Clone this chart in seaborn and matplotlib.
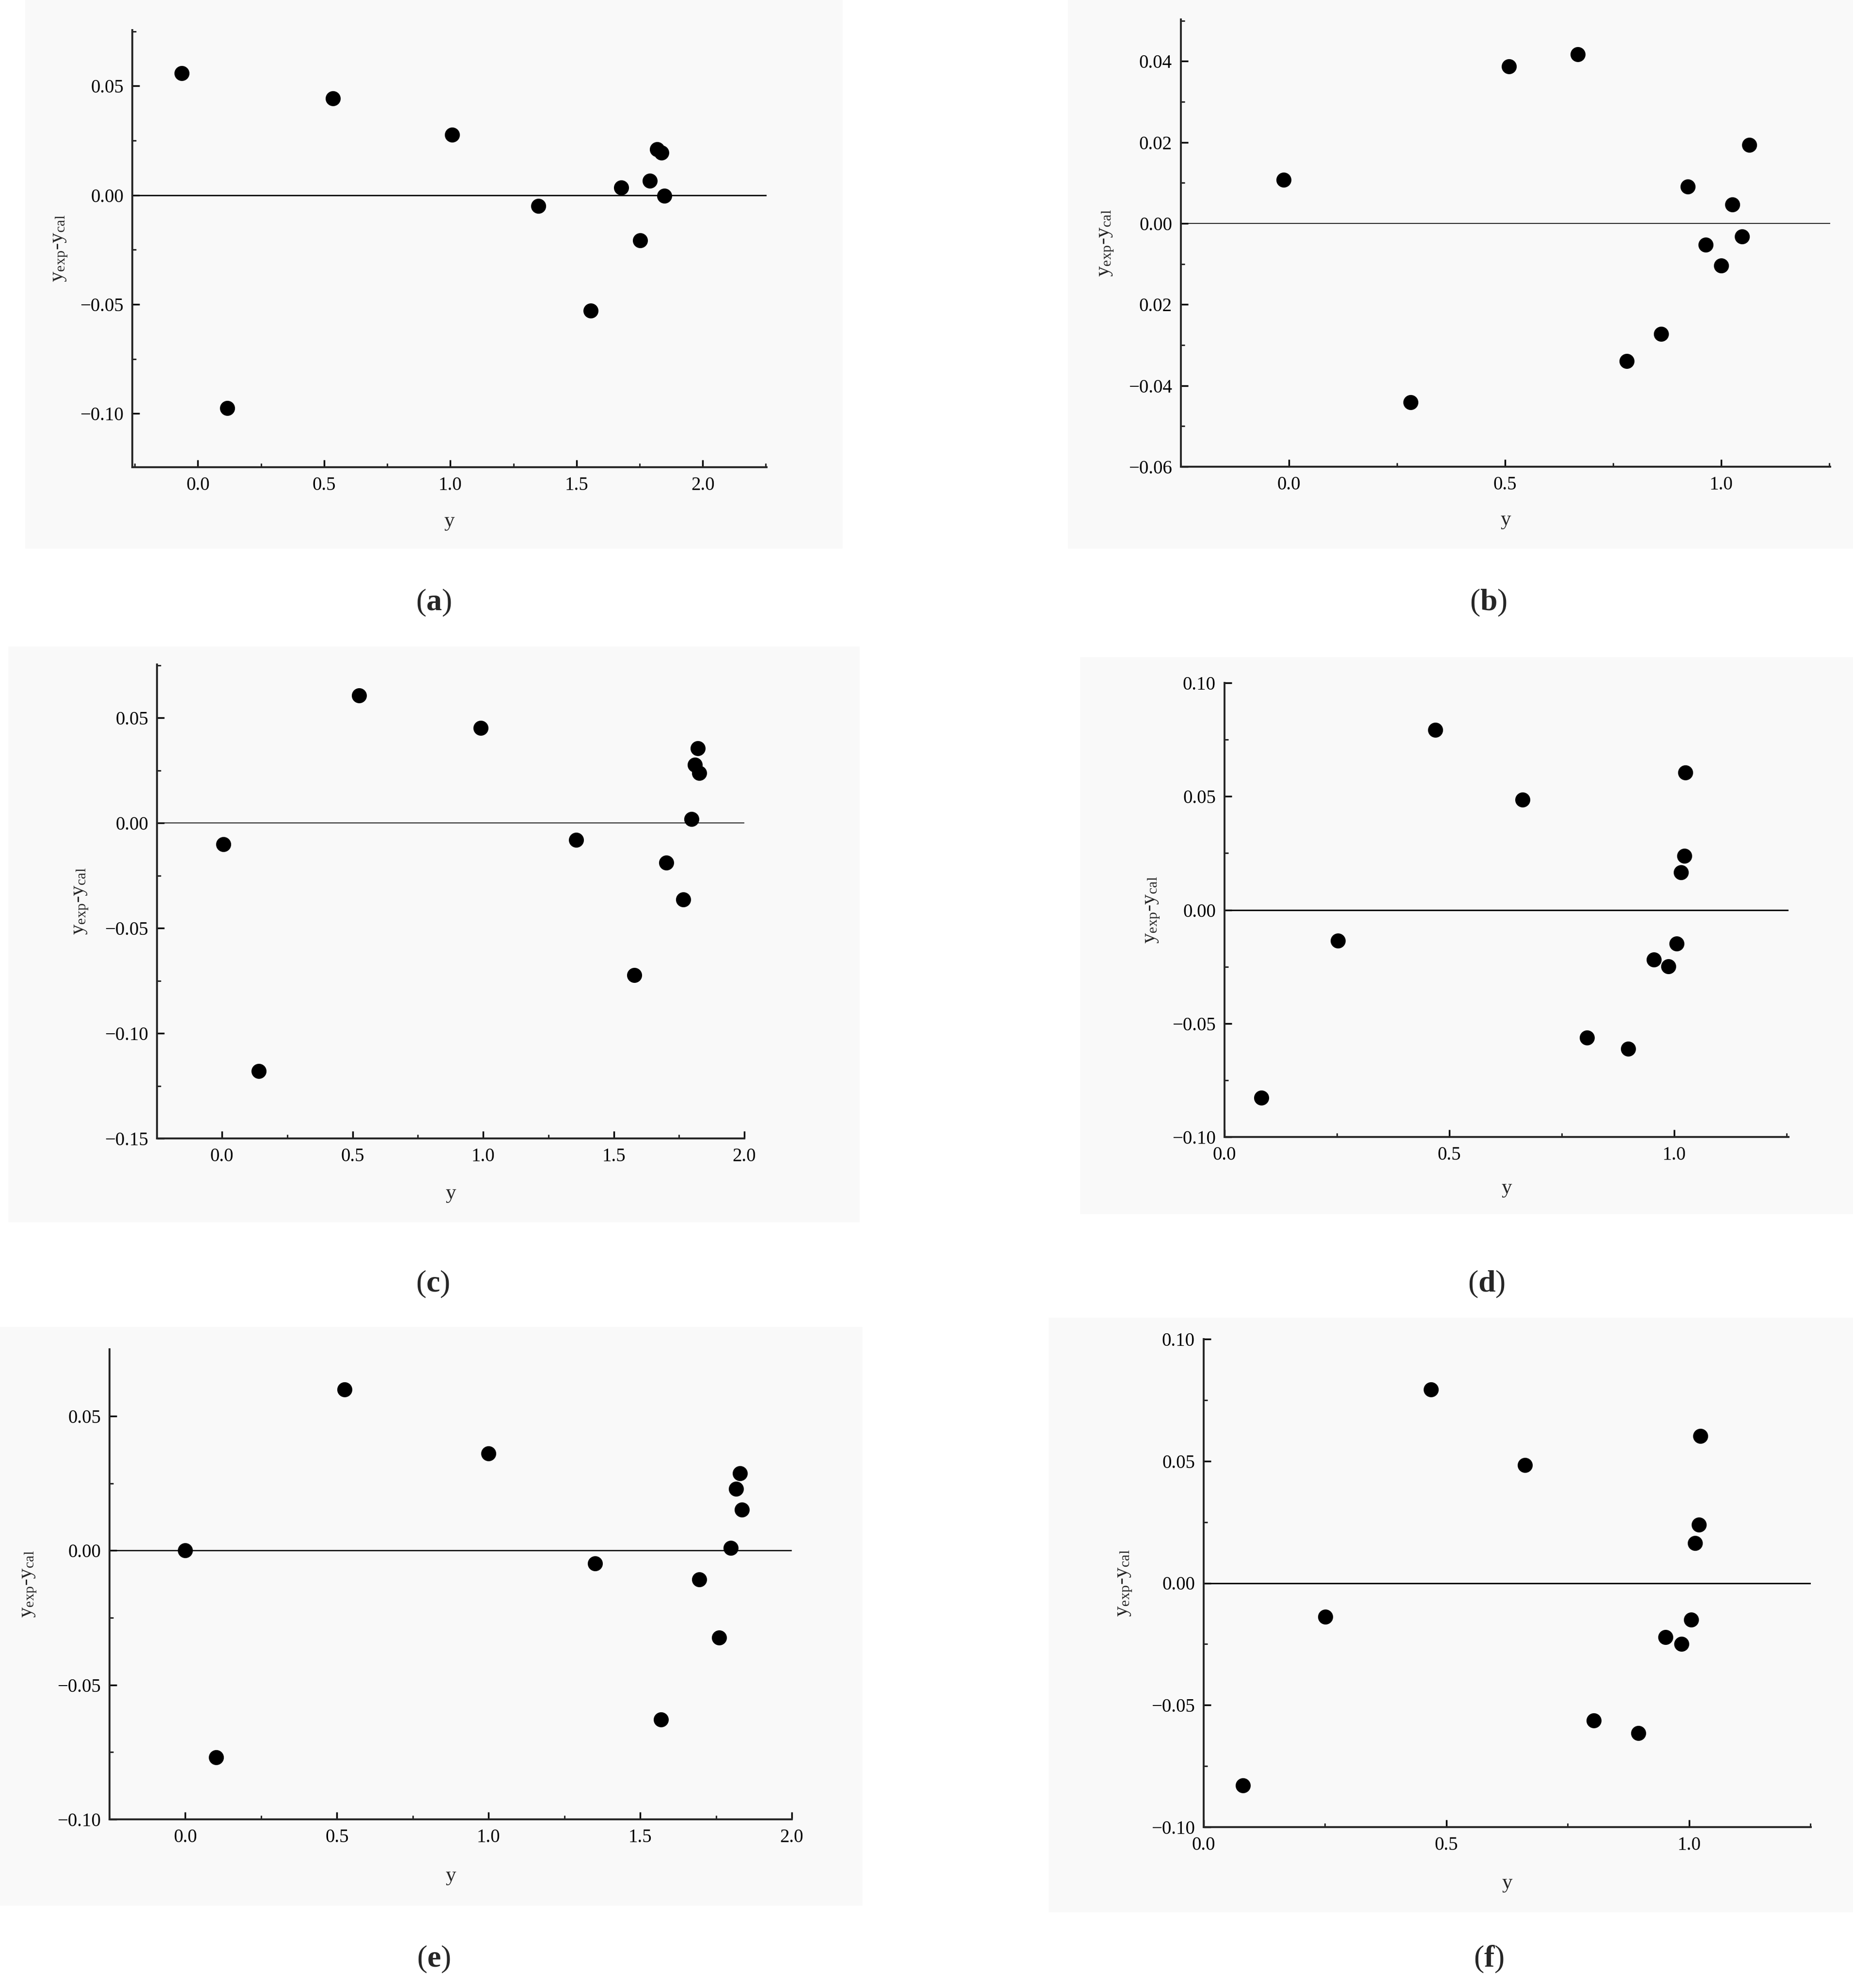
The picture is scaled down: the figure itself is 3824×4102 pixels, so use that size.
import matplotlib
matplotlib.use("Agg")
import matplotlib.pyplot as plt
import seaborn as sns
import pandas as pd
from matplotlib.patches import Rectangle
from matplotlib.ticker import FixedLocator, FixedFormatter, MultipleLocator

# ---------------- data ----------------
A_X = [-0.064, 0.117, 0.535, 1.007, 1.348, 1.557, 1.678, 1.751, 1.791, 1.819, 1.837, 1.848]
A_Y = [0.0559, -0.0976, 0.0443, 0.0276, -0.0050, -0.0528, 0.0035, -0.0208, 0.0066, 0.0211, 0.0195, -0.0004]

B_X = [-0.012, 0.281, 0.509, 0.668, 0.781, 0.861, 0.922, 0.964, 1.000, 1.026, 1.048, 1.065]
B_Y = [0.0107, -0.0441, 0.0387, 0.0417, -0.0339, -0.0273, 0.0091, -0.0053, -0.0104, 0.0047, -0.0032, 0.0193]

C_X = [0.006, 0.141, 0.525, 0.991, 1.356, 1.578, 1.701, 1.767, 1.797, 1.810, 1.821, 1.827]
C_Y = [-0.0101, -0.1179, 0.0607, 0.0452, -0.0081, -0.0724, -0.0188, -0.0363, 0.0018, 0.0276, 0.0355, 0.0238]

D_X = [0.082, 0.252, 0.469, 0.663, 0.806, 0.897, 0.954, 0.987, 1.005, 1.015, 1.022, 1.025]
D_Y = [-0.0827, -0.0136, 0.0794, 0.0485, -0.0563, -0.0612, -0.0219, -0.0248, -0.0149, 0.0165, 0.0239, 0.0605]

E_X = [0.000, 0.101, 0.525, 1.000, 1.352, 1.569, 1.694, 1.761, 1.798, 1.817, 1.829, 1.835]
E_Y = [0.0000, -0.0770, 0.0599, 0.0361, -0.0048, -0.0628, -0.0107, -0.0324, 0.0010, 0.0229, 0.0287, 0.0152]

F_X = [0.081, 0.251, 0.468, 0.662, 0.804, 0.896, 0.951, 0.984, 1.004, 1.012, 1.020, 1.023]
F_Y = [-0.0829, -0.0138, 0.0794, 0.0483, -0.0564, -0.0614, -0.0221, -0.0250, -0.0149, 0.0164, 0.0239, 0.0603]

X_TICKS_2 = [0.0, 0.5, 1.0, 1.5, 2.0]
X_LABELS_2 = ["0.0", "0.5", "1.0", "1.5", "2.0"]
X_TICKS_1 = [0.0, 0.5, 1.0]
X_LABELS_1 = ["0.0", "0.5", "1.0"]

A_YTICKS = [0.05, 0.00, -0.05, -0.10]
A_YLABELS = ["0.05", "0.00", "\u22120.05", "\u22120.10"]
B_YTICKS = [0.04, 0.02, 0.00, -0.02, -0.04, -0.06]
B_YLABELS = ["0.04", "0.02", "0.00", "0.02", "\u22120.04", "\u22120.06"]
C_YTICKS = [0.05, 0.00, -0.05, -0.10, -0.15]
C_YLABELS = ["0.05", "0.00", "\u22120.05", "\u22120.10", "\u22120.15"]
D_YTICKS = [0.10, 0.05, 0.00, -0.05, -0.10]
D_YLABELS = ["0.10", "0.05", "0.00", "\u22120.05", "\u22120.10"]
E_YTICKS = [0.05, 0.00, -0.05, -0.10]
E_YLABELS = ["0.05", "0.00", "\u22120.05", "\u22120.10"]

XLABEL = "y"
YLABEL = "y$_{\\mathrm{exp}}$-y$_{\\mathrm{cal}}$"
CAPTIONS = ["a", "b", "c", "d", "e", "f"]

# ---------------- style ----------------
sns.set_style("ticks")
plt.rcParams["font.family"] = ["Liberation Serif", "DejaVu Serif"]
plt.rcParams["mathtext.fontset"] = "custom"
plt.rcParams["mathtext.rm"] = "Liberation Serif"
plt.rcParams["mathtext.it"] = "Liberation Serif:italic"
plt.rcParams["mathtext.bf"] = "Liberation Serif:bold"

W, H = 3824, 4102
DPI = 100
fig = plt.figure(figsize=(W / DPI, H / DPI), dpi=DPI)
fig.patch.set_facecolor("white")

BG = "#f9f9f9"
backgrounds = [
    (52, 0, 1739, 1132), (2204, 0, 3824, 1132),
    (17, 1334, 1774, 2522), (2229, 1356, 3824, 2505),
    (0, 2738, 1780, 3932), (2164, 2719, 3824, 3946),
]
for (x0, y0, x1, y1) in backgrounds:
    fig.patches.append(Rectangle((x0 / W, 1 - y1 / H), (x1 - x0) / W, (y1 - y0) / H,
                                 transform=fig.transFigure, facecolor=BG,
                                 edgecolor="none", zorder=-5))

panels = [
    dict(x=A_X, y=A_Y, box=(273, 62, 1582, 964), xlim=(-0.26, 2.253), ylim=(-0.1246, 0.0756),
         xt=X_TICKS_2, xl=X_LABELS_2, yt=A_YTICKS, yl=A_YLABELS, ymin=0.025,
         ylc=-0.114, xlc=-0.124, zlw=2.0, cap=(895, 1244)),
    dict(x=B_X, y=B_Y, box=(2437, 40, 3777, 963), xlim=(-0.25, 1.252), ylim=(-0.06, 0.0503),
         xt=X_TICKS_1, xl=X_LABELS_1, yt=B_YTICKS, yl=B_YLABELS, ymin=0.01,
         ylc=-0.115, xlc=-0.119, zlw=1.2, cap=(3072, 1244)),
    dict(x=C_X, y=C_Y, box=(324, 1371, 1536, 2349), xlim=(-0.249, 2.0), ylim=(-0.15, 0.0754),
         xt=X_TICKS_2, xl=X_LABELS_2, yt=C_YTICKS, yl=C_YLABELS, ymin=0.025,
         ylc=-0.130, xlc=-0.116, zlw=1.2, cap=(893, 2650)),
    dict(x=D_X, y=D_Y, box=(2527, 1409, 3691, 2346), xlim=(0.0, 1.254), ylim=(-0.10, 0.10),
         xt=X_TICKS_1, xl=X_LABELS_1, yt=D_YTICKS, yl=D_YLABELS, ymin=0.025,
         ylc=-0.128, xlc=-0.113, zlw=2.2, cap=(3068, 2650)),
    dict(x=E_X, y=E_Y, box=(226, 2784, 1634, 3754), xlim=(-0.25, 2.0), ylim=(-0.10, 0.0749),
         xt=X_TICKS_2, xl=X_LABELS_2, yt=E_YTICKS, yl=E_YLABELS, ymin=0.025,
         ylc=-0.118, xlc=-0.120, zlw=1.8, cap=(895, 4043)),
    dict(x=F_X, y=F_Y, box=(2484, 2763, 3737, 3770), xlim=(0.0, 1.251), ylim=(-0.10, 0.10),
         xt=X_TICKS_1, xl=X_LABELS_1, yt=D_YTICKS, yl=D_YLABELS, ymin=0.025,
         ylc=-0.130, xlc=-0.115, zlw=2.2, cap=(3072, 4043)),
]

for p, cap in zip(panels, CAPTIONS):
    l, t, r, b = p["box"]
    ax = fig.add_axes([l / W, 1 - b / H, (r - l) / W, (b - t) / H])
    ax.set_facecolor("none")
    df = pd.DataFrame({"x": p["x"], "y": p["y"]})
    ax.axhline(0, color="black", lw=p["zlw"], zorder=2)
    sns.scatterplot(data=df, x="x", y="y", ax=ax, color="black", s=500,
                    linewidth=0, zorder=3, legend=False)
    ax.set_xlim(*p["xlim"])
    ax.set_ylim(*p["ylim"])
    ax.xaxis.set_major_locator(FixedLocator(p["xt"]))
    ax.xaxis.set_major_formatter(FixedFormatter(p["xl"]))
    ax.xaxis.set_minor_locator(MultipleLocator(0.25))
    ax.yaxis.set_major_locator(FixedLocator(p["yt"]))
    ax.yaxis.set_major_formatter(FixedFormatter(p["yl"]))
    ax.yaxis.set_minor_locator(MultipleLocator(p["ymin"]))
    for side in ("top", "right"):
        ax.spines[side].set_visible(False)
    for side in ("left", "bottom"):
        ax.spines[side].set_linewidth(2.8)
    ax.tick_params(which="major", direction="in", length=11, width=2.5,
                   labelsize=28, colors="black")
    ax.tick_params(axis="x", which="major", pad=14)
    ax.tick_params(axis="y", which="major", pad=13)
    ax.tick_params(which="minor", direction="in", length=5.5, width=2.2)
    ax.set_xlabel(XLABEL, fontsize=31, va="center")
    ax.set_ylabel(YLABEL, fontsize=31, va="center")
    ax.xaxis.set_label_coords(0.5, p["xlc"])
    ax.yaxis.set_label_coords(p["ylc"], 0.5)
    cx, cy = p["cap"]
    fig.text(cx / W, 1 - cy / H, "($\\mathbf{" + cap + "}$)", ha="center", va="center",
             fontsize=46)

fig.savefig("out.png", dpi=DPI)
